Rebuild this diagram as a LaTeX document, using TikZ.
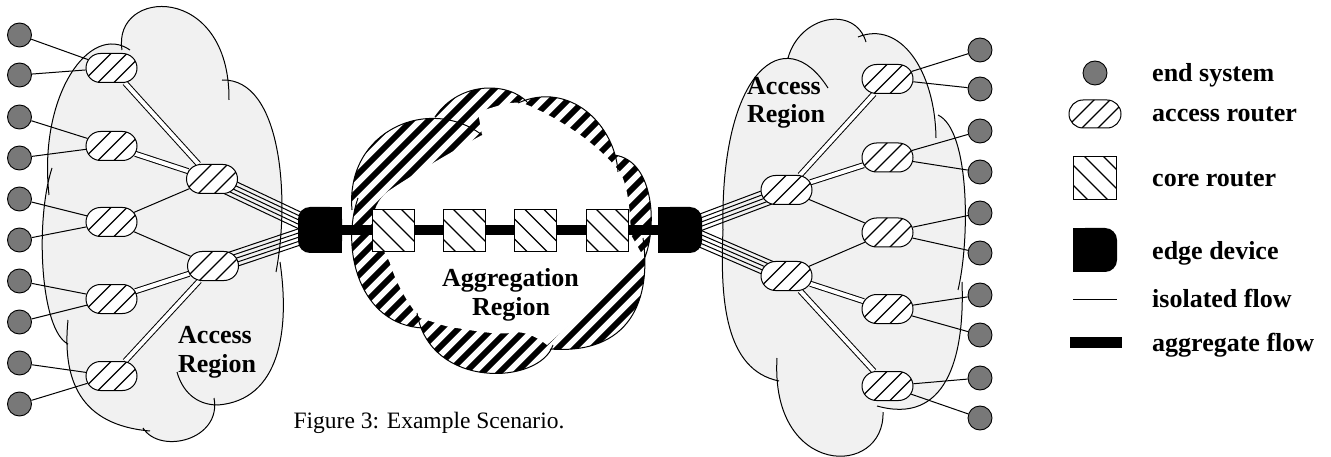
\documentclass[tikz,border=0pt]{standalone}
\usepackage{fontspec}
\setmainfont{Liberation Serif}
\usetikzlibrary{calc,shapes.misc}
\pgfdeclarelayer{bg}
\pgfdeclarelayer{lines}
\pgfsetlayers{bg,lines,main}
\definecolor{esgray}{RGB}{120,120,120}
\definecolor{cloudgray}{RGB}{241,241,241}
\newcommand\lblfont{\bfseries\fontsize{26}{29}\selectfont}
\newcommand\capfont{\fontsize{23.5}{28}\selectfont}
% cloud outlines (screen coordinates, y downwards); #1 is "--" for fills, empty for strokes
\newcommand\leftcloudpath[1]{%
(122,50) .. controls (112,-12) and (230,-18) .. (229,100) #1
(222,80) .. controls (282,78) and (290,200) .. (276,272) #1
(280,262) .. controls (290,330) and (280,400) .. (218,405) .. controls (195,405) and (182,390) .. (177,372) #1
(214,398) .. controls (222,440) and (160,455) .. (143,428) #1
(150,431) .. controls (80,425) and (62,380) .. (68,320) #1
(68,344) .. controls (40,330) and (35,220) .. (52,168) #1
(49,195) .. controls (38,95) and (90,22) .. (130,50)}
\newcommand\rightcloudpath[1]{%
(779,381) .. controls (725,370) and (720,300) .. (723,230) .. controls (720,70) and (785,20) .. (828,88) #1
(788,58) .. controls (800,15) and (855,5) .. (866,42) #1
(858,37) .. controls (900,20) and (935,70) .. (936,138) #1
(938,115) .. controls (970,130) and (970,240) .. (958,290) #1
(962,282) .. controls (965,360) and (945,425) .. (877,406) #1
(883,412) .. controls (885,478) and (770,478) .. (777,358)}
\newcommand\aggpath[1]{%
(352,210) .. controls (345,130) and (430,95) .. (482,135) #1
(435,117) .. controls (460,80) and (510,82) .. (528,103) #1
(518,103) .. controls (570,80) and (615,125) .. (618,172) #1
(614,155) .. controls (655,160) and (658,230) .. (643,262) #1
(643,238) .. controls (652,300) and (630,355) .. (550,349) #1
(553,345) .. controls (540,385) and (430,390) .. (417,313) #1
(423,328) .. controls (360,325) and (340,250) .. (358,198)}
\newcommand\bundle[2]{%
\foreach \k in {-2,...,2}{\draw[flow] ($(#1)!\k*4pt!90:(#2)$) -- ($(#2)!\k*4pt!-90:(#1)$);}}
\begin{document}
\begin{tikzpicture}[x=1pt,y=-1pt,
  es/.style={circle,draw,line width=0.9pt,fill=esgray,minimum size=24pt,inner sep=0pt},
  ar/.style={rounded rectangle,draw,line width=1pt,fill=white,minimum width=51pt,minimum height=29pt,inner sep=0pt,
    path picture={\foreach \k in {-15,1,17}{\draw[line width=1.3pt] ([xshift={(\k-20)*1pt},yshift=-20pt]path picture bounding box.center) -- ++(40pt,40pt);}}},
  cr/.style={rectangle,draw,line width=1pt,fill=white,minimum size=42pt,inner sep=0pt,
    path picture={\foreach \k in {-29,-9,11,30}{\draw[line width=1.3pt] ([xshift={(\k-30)*1pt},yshift=30pt]path picture bounding box.center) -- ++(60pt,-60pt);}}},
  edev/.style={rectangle,fill=black,minimum width=44pt,minimum height=46pt,rounded corners=12pt,inner sep=0pt},
  flow/.style={line width=1pt},
  dbl/.style={line width=1pt,double distance=4pt},
  aggr/.style={line width=10pt},
  lbl/.style={font=\lblfont,inner sep=0pt,anchor=base},
  leg/.style={font=\lblfont,inner sep=0pt,anchor=base west},
  cloudline/.style={line width=1pt},
]
\useasboundingbox (0,0) rectangle (1331,457);

% ---------- clouds ----------
\begin{pgfonlayer}{bg}
\fill[cloudgray] \leftcloudpath{--} -- cycle;
\draw[cloudline] \leftcloudpath{};
\fill[cloudgray] \rightcloudpath{--} -- cycle;
\draw[cloudline] \rightcloudpath{};
\begin{scope}
\clip \aggpath{--} -- cycle;
\foreach \c in {430,447,...,1050}{\draw[line width=6pt] (\c-400,400) -- (\c,0);}
\end{scope}
\fill[white] (390,190) .. controls (420,170) and (455,150) .. (482,135) -- (478,112)
  .. controls (500,105) and (515,100) .. (525,104)
  .. controls (545,112) and (590,135) .. (620,172)
  .. controls (627,185) and (630,205) .. (631,235) -- (643,256)
  .. controls (615,285) and (575,320) .. (547,345)
  .. controls (535,335) and (520,330) .. (510,333)
  .. controls (495,335) and (470,330) .. (450,327)
  .. controls (440,325) and (428,320) .. (420,318)
  .. controls (405,300) and (395,280) .. (390,263)
  .. controls (382,245) and (372,235) .. (372,222)
  .. controls (374,205) and (382,195) .. (390,190) -- cycle;
\draw[cloudline] \aggpath{};
\end{pgfonlayer}

% ---------- left access region ----------
\foreach \i/\y in {1/35,2/75,3/117,4/158,5/199,6/240,7/281,8/322,9/363,10/404}
  {\node[es] (e\i) at (19.5,\y) {};}
\foreach \i/\y in {1/68,2/146,3/222,4/299,5/376}
  {\node[ar] (r\i) at (111.5,\y) {};}
\node[ar] (s1) at (212,179) {};
\node[ar] (s2) at (213,266) {};

% ---------- edge devices and core ----------
\node[edev] (ed1) at (320,230) {};
\fill (ed1.north) rectangle (ed1.south east);
\node[edev] (ed2) at (680,230) {};
\fill (ed2.north west) rectangle (ed2.south);
\node[cr] (c1) at (393,231) {};
\node[cr] (c2) at (464,231) {};
\node[cr] (c3) at (535.5,231) {};
\node[cr] (c4) at (607,231) {};

% ---------- right access region ----------
\node[ar] (t1) at (786.5,190) {};
\node[ar] (t2) at (786.5,276) {};
\foreach \i/\y in {1/79,2/157.5,3/232.5,4/309,5/386}
  {\node[ar] (u\i) at (887.5,\y) {};}
\foreach \i/\y in {1/50,2/89,3/131,4/172,5/213,6/253,7/295,8/335,9/378,10/418}
  {\node[es] (f\i) at (980,\y) {};}

% ---------- connectors ----------
\begin{pgfonlayer}{lines}
\foreach \i/\r in {1/1,2/1,3/2,4/2,5/3,6/3,7/4,8/4,9/5,10/5}
  {\draw[flow] (e\i) -- (r\r); \draw[flow] (f\i) -- (u\r);}
\draw[dbl] (r1) -- (s1);
\draw[dbl] (r2) -- (s1);
\draw[flow] (r3) -- (s1);
\draw[flow] (r3) -- (s2);
\draw[dbl] (r4) -- (s2);
\draw[dbl] (r5) -- (s2);
\bundle{s1}{ed1}
\bundle{s2}{ed1}
\draw[dbl] (u1) -- (t1);
\draw[dbl] (u2) -- (t1);
\draw[flow] (u3) -- (t1);
\draw[flow] (u3) -- (t2);
\draw[dbl] (u4) -- (t2);
\draw[dbl] (u5) -- (t2);
\bundle{t1}{ed2}
\bundle{t2}{ed2}
\draw[aggr] (ed1.center) -- (ed2.center);
\end{pgfonlayer}

% ---------- labels ----------
\node[lbl] (la1) at (215,343) {Access};
\node[lbl] (la2) at (217,372) {Region};
\node[lbl] (ra1) at (784,95) {Access};
\node[lbl] (ra2) at (786,123) {Region};
\node[lbl] (ag1) at (510.5,287) {Aggregation};
\node[lbl] (ag2) at (511,315) {Region};
\node[font=\capfont,inner sep=0pt,anchor=base] (cap) at (429,428) {Figure 3: Example Scenario.};

% ---------- legend ----------
\node[es] (les) at (1095,73) {};
\node[ar,minimum width=52pt,minimum height=28pt] (lar) at (1095,114) {};
\node[cr,minimum size=43pt] (lcr) at (1095,178) {};
\node[edev,minimum height=44pt] (led) at (1095,250) {};
\fill (led.north west) rectangle (led.south);
\coordinate (liA) at (1073,299);
\coordinate (liB) at (1117,299);
\draw[flow] (liA) -- (liB);
\coordinate (lgA) at (1070,342.5);
\coordinate (lgB) at (1122,342.5);
\draw[line width=11pt] (lgA) -- (lgB);
\node[leg] (t-es) at (1152,82) {end system};
\node[leg] (t-ar) at (1152,122) {access router};
\node[leg] (t-cr) at (1152,187) {core router};
\node[leg] (t-ed) at (1152,260) {edge device};
\node[leg] (t-if) at (1152,307) {isolated flow};
\node[leg] (t-af) at (1152,351) {aggregate flow};
\end{tikzpicture}
\end{document}
